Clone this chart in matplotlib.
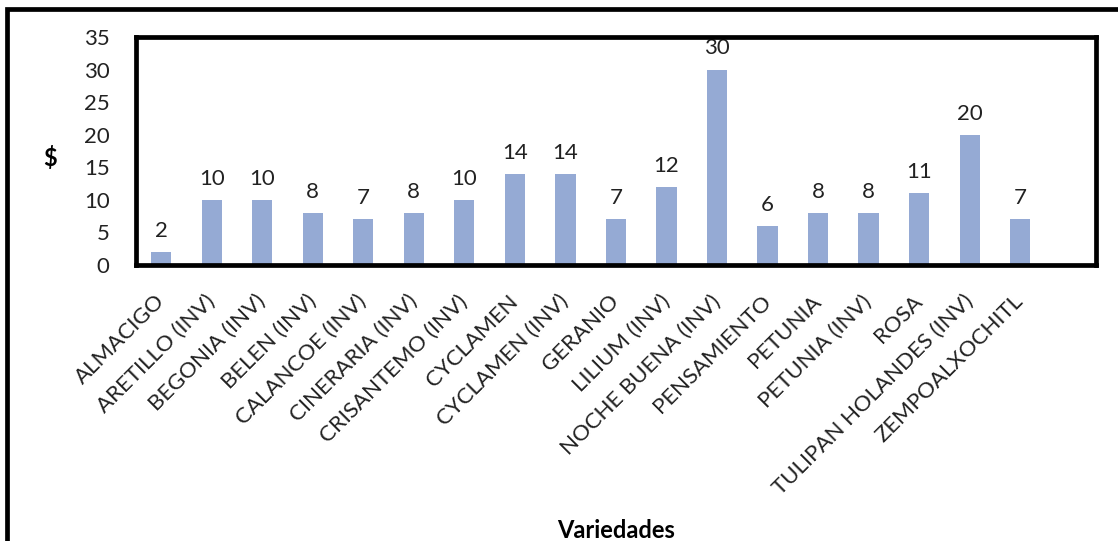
import matplotlib.pyplot as plt
from matplotlib.lines import Line2D

plt.rcParams['font.family'] = ['Lato', 'DejaVu Sans']

variedades = ['ALMACIGO', 'ARETILLO (INV)', 'BEGONIA (INV)', 'BELEN (INV)',
              'CALANCOE (INV)', 'CINERARIA (INV)', 'CRISANTEMO (INV)', 'CYCLAMEN',
              'CYCLAMEN (INV)', 'GERANIO', 'LILIUM (INV)', 'NOCHE BUENA (INV)',
              'PENSAMIENTO', 'PETUNIA', 'PETUNIA (INV)', 'ROSA',
              'TULIPAN HOLANDES (INV)', 'ZEMPOALXOCHITL']
precios = [2, 10, 10, 8, 7, 8, 10, 14, 14, 7, 12, 30, 6, 8, 8, 11, 20, 7]
yticks = [0, 5, 10, 15, 20, 25, 30, 35]

fig = plt.figure(figsize=(11.18, 5.41), dpi=100)
ax = fig.add_axes([0.1216, 0.5102, 0.8587, 0.4214])

x = list(range(len(variedades)))
ax.bar(x, precios, width=0.4, color='#95AAD4', zorder=2)

# etiquetas de valor sobre cada barra (debajo del marco)
for xi, v in zip(x, precios):
    ax.annotate(str(v), (xi, v), xytext=(0, 8), textcoords='offset points',
                ha='center', va='bottom', fontsize=16, color='#222222',
                annotation_clip=False, zorder=1)

ax.set_xlim(-0.5, len(variedades) + 0.5)
ax.set_ylim(0, 35)
ax.set_yticks(yticks)
ax.set_xticks(x)
ax.set_xticklabels(variedades, rotation=45, ha='right', va='center',
                   rotation_mode='anchor', fontsize=16)
ax.tick_params(axis='both', length=0, labelsize=16, colors='#222222')
ax.tick_params(axis='y', pad=19)
ax.tick_params(axis='x', pad=24)

for s in ax.spines.values():
    s.set_linewidth(3.4)
    s.set_color('black')

ax.set_ylabel('$', rotation=0, fontsize=17, fontweight='bold', va='center')
ax.yaxis.set_label_coords(-0.09, 0.47)
ax.set_xlabel('Variedades', fontsize=17, fontweight='bold', va='center')
ax.xaxis.set_label_coords(0.5, -1.165)

# marco exterior (solo izquierda y arriba visibles)
fig.add_artist(Line2D([0.0067, 0.0067, 1.0], [0.0, 0.984, 0.984],
                      transform=fig.transFigure, color='black', linewidth=3.4,
                      solid_joinstyle='miter'))

fig.savefig('out.png', dpi=100)
